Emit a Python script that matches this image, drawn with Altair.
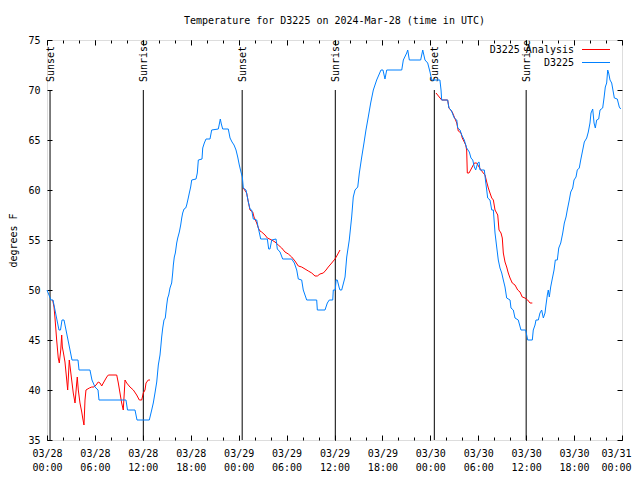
import altair as alt
import pandas as pd

# ---- data (hours since 2024-03-28 00:00 UTC, degrees F) ----
blue_hours = [0.0, 0.25, 0.5, 0.75, 1.0, 1.25, 1.5, 1.69, 1.88, 2.13, 2.38, 2.63, 2.88, 3.13, 3.88, 4.01,
              5.38, 5.63, 6.01, 6.39, 6.51, 9.89, 10.08, 11.02, 11.27, 12.81, 13.11, 13.31, 13.52, 13.74,
              13.94, 14.15, 14.27, 14.36, 14.49, 14.65, 14.81, 14.99, 15.11, 15.24, 15.40, 15.61, 15.74,
              15.82, 15.94, 16.07, 16.24, 16.37, 16.57, 16.74, 16.87, 16.99, 17.16, 17.37, 17.49, 17.69,
              17.82, 17.99, 18.12, 18.66, 18.82, 18.95, 19.41, 19.50, 19.70, 19.91, 20.41, 20.62, 21.45,
              21.58, 21.70, 21.83, 22.00, 22.70, 22.92, 23.17, 23.42, 23.67, 23.88, 24.08, 24.29, 24.46,
              24.58, 24.92, 25.21, 25.42, 25.63, 25.83, 26.26, 26.46, 26.76, 27.59, 27.76, 27.92, 28.14,
              28.68, 28.84, 29.18, 29.51, 30.64, 30.97, 31.27, 31.47, 31.89, 32.09, 32.52, 33.77, 33.85,
              34.81, 35.10, 35.35, 35.78, 35.85, 36.10, 36.19, 36.35, 36.60, 36.69, 36.90, 37.32, 37.53,
              37.85, 38.15, 38.35, 38.57, 38.91, 39.11, 39.41, 39.69, 39.94, 40.23, 40.53, 40.86, 41.28,
              41.82, 42.07, 42.32, 42.54, 44.42, 44.62, 45.04, 45.17, 45.37, 46.79, 47.05, 47.33, 47.67,
              47.96, 48.17, 48.71, 49.20, 49.34, 49.42, 50.17, 50.33, 50.59, 50.75, 51.00, 51.31, 51.43,
              51.72, 51.93, 52.25, 52.55, 52.88, 53.09, 53.31, 53.51, 53.68, 53.93, 54.10, 54.22, 54.76,
              54.93, 55.06, 55.18, 55.47, 55.69, 55.89, 56.01, 56.10, 56.31, 56.51, 56.72, 56.94, 57.14,
              57.35, 57.56, 57.98, 58.10, 58.39, 58.60, 59.01, 59.35, 59.94, 60.19, 60.77, 60.89, 61.11,
              61.23, 61.52, 61.73, 61.94, 62.15, 62.36, 62.48, 62.65, 62.77, 62.90, 63.07, 63.24, 63.49,
              63.65, 63.90, 64.08, 64.33, 64.58, 64.78, 64.99, 65.15, 65.40, 65.58, 65.83, 65.99, 66.24,
              66.40, 66.65, 66.83, 67.08, 67.28, 67.58, 67.78, 67.99, 68.12, 68.33, 68.50, 68.66, 68.83,
              69.08, 69.25, 69.58, 69.75, 69.91, 70.08, 70.21, 70.33, 70.50, 70.71, 71.04, 71.41, 71.66,
              71.84]
blue_temp = [50, 49.5, 49, 49, 48, 47, 46, 46, 47, 47, 46, 45, 44, 43, 43, 42,
             42, 41, 40.3, 40, 39, 39, 38, 38, 37, 37, 38, 38.7, 39.7, 40.8,
             42.5, 43.5, 44.5, 45.3, 46.2, 47, 47.2, 48.5, 49.2, 49.5, 50.2, 50.7, 51.7,
             52.5, 53.3, 53.7, 54.7, 55.2, 55.8, 56.5, 57.2, 57.7, 58.1, 58.2, 58.5, 59.2,
             59.7, 60.3, 61, 61.1, 61.7, 63, 63.1, 64.2, 64.7, 65.1, 65.1, 66, 66.1,
             66.6, 67.1, 66.6, 66.1, 66.1, 65.2, 64.8, 64.5, 64, 63.3, 62.5, 61.8, 61.3,
             60.2, 60, 58.8, 58.1, 58, 57.1, 57, 56.2, 55.1, 55.1, 54.1, 54.1, 55,
             55.1, 54.1, 53.8, 53.1, 53.1, 52.7, 52, 51.1, 51, 50, 49, 49, 48,
             48, 48.7, 49, 49, 50, 50, 51, 51, 50.2, 50, 50, 51.3, 53.3,
             55, 57.3, 59.3, 60, 60.3, 61.7, 63.3, 64.7, 66, 67.3, 68.7, 70, 71,
             72, 72, 71.1, 72, 72, 73, 73.7, 74, 73, 73, 74, 73, 72.7,
             71.8, 71, 71, 71, 70, 69, 69, 68.2, 68, 67.7, 67.2, 67, 66.2,
             66, 65.5, 65, 64.2, 63.8, 63.2, 63, 62.3, 62, 62.7, 62.8, 62, 62,
             60.8, 60, 59.2, 59, 58, 58, 56.7, 55.7, 54.3, 53, 52.2, 51.7, 51,
             50.3, 49.2, 49, 48.2, 48, 47.2, 47, 46, 46, 45, 45, 46, 46.5,
             47, 47, 47.7, 48, 47.2, 47.7, 48.5, 49.5, 50, 49.3, 50.3, 51, 52,
             53, 53, 54.2, 54.7, 55.7, 56.7, 57.3, 58, 59, 59.8, 60.2, 61, 61.3,
             62, 62.2, 63, 64, 64.8, 65.2, 65.8, 66.7, 67.7, 68.1, 66.7, 66.2, 67,
             67.1, 68, 68.2, 69.2, 70.3, 70.7, 72, 71.7, 71, 70.7, 69.2, 69.1, 68.3,
             68.1]

red1_hours = [0.71, 0.88, 1.0, 1.21, 1.41, 1.54, 1.72, 1.84, 1.92, 2.04, 2.25, 2.47, 2.59, 2.79, 2.97,
              3.09, 3.29, 3.51, 3.72, 3.79, 3.92, 4.13, 4.35, 4.47, 4.63, 4.76, 4.88, 5.30, 5.60, 5.89,
              6.14, 6.42, 6.64, 6.85, 7.05, 7.48, 7.68, 8.73, 8.93, 9.14, 9.35, 9.55, 9.77, 9.98, 10.39,
              10.81, 11.23, 11.56, 11.86, 12.06, 12.27, 12.40, 12.68, 12.90]
red1_temp = [49, 48.3, 47.2, 45, 43.2, 42.7, 44, 45.5, 44.3, 43.8, 42.8, 41, 40, 43, 41.8,
             41, 39.7, 38.7, 40.7, 41.3, 40, 38.7, 37.8, 37.2, 36.5, 39, 40, 40.2, 40.3, 40.3,
             40.5, 40.8, 40.7, 40.4, 40.7, 41.3, 41.5, 41.5, 40.7, 39.7, 38.7, 38, 41, 40.7, 40.3,
             40, 39.5, 39, 39, 39.7, 40, 40.7, 41, 41]

red2_hours = [24.58, 25.0, 25.21, 25.42, 25.76, 25.92, 26.26, 26.46, 26.67, 26.88, 27.30, 27.59, 28.14,
              28.55, 28.96, 29.39, 29.80, 30.22, 30.64, 31.05, 31.47, 31.89, 32.31, 32.72, 33.15, 33.56,
              33.85, 34.18, 34.60, 34.94, 35.22, 35.65, 36.06, 36.28, 36.69]
red2_temp = [60.2, 59.7, 58.8, 58, 57.8, 57.3, 56.7, 56.2, 55.9, 55.8, 55.5, 55.2, 55,
             54.8, 54.5, 54.2, 53.8, 53.6, 53.3, 52.9, 52.4, 52.3, 52.1, 51.9, 51.7, 51.4,
             51.4, 51.6, 51.7, 52, 52.3, 52.7, 53.1, 53.4, 54]

red3_hours = [48.71, 49.42, 50.17, 50.33, 50.75, 51.0, 51.31, 51.50, 51.84, 52.0, 52.25, 52.43, 52.55,
              52.63, 52.84, 53.18, 53.51, 53.81, 54.10, 54.35, 54.63, 54.85, 55.06, 55.26, 55.47, 55.69,
              55.89, 56.10, 56.44, 56.60, 56.85, 57.01, 57.14, 57.35, 57.56, 57.76, 57.98, 58.26, 58.60,
              58.94, 59.23, 59.51, 59.85, 60.19, 60.48, 60.77]
red3_temp = [69.7, 69, 69, 68.2, 67.8, 67.3, 66.7, 65.9, 65.7, 65.2, 64.8, 64.5, 64,
             61.7, 61.7, 62.2, 62.7, 62.7, 62.3, 62, 61.7, 61.5, 60.8, 60.2, 59.7, 59.2,
             59, 58, 57.5, 56, 55.7, 55.2, 53.7, 52.8, 52.3, 51.7, 51.2, 50.7, 50.5,
             50, 49.8, 49.3, 49.2, 49, 48.7, 48.7]

sun_hours = [0.38, 12.06, 24.44, 36.1, 48.5, 60.0]
sun_labels = ["Sunset", "Sunrise", "Sunset", "Sunrise", "Sunset", "Sunrise"]

series_names = ["D3225 Analysis", "D3225"]
series_colors = ["#ff0000", "#0080ff"]

title_text = "Temperature for D3225 on 2024-Mar-28 (time in UTC)"
x_major = list(range(0, 73, 6))
x_minor = list(range(0, 73, 2))
y_major = list(range(35, 76, 5))

FONT = "DejaVu Sans Mono"

# ---- tables ----
blue_df = pd.DataFrame({"h": blue_hours, "t": blue_temp})
red_df = pd.concat([
    pd.DataFrame({"h": red1_hours, "t": red1_temp, "seg": 1}),
    pd.DataFrame({"h": red2_hours, "t": red2_temp, "seg": 2}),
    pd.DataFrame({"h": red3_hours, "t": red3_temp, "seg": 3}),
], ignore_index=True)
sun_df = pd.DataFrame({"h": sun_hours, "label": sun_labels})

xscale = alt.Scale(domain=[0, 72], nice=False, zero=False)
yscale = alt.Scale(domain=[35, 75], nice=False, zero=False)

label_expr = ("['03/' + (28 + floor(datum.value / 24)), "
              "((datum.value % 24) < 10 ? '0' : '') + (datum.value % 24) + ':00']")

x_main_axis = alt.Axis(values=x_major, labelExpr=label_expr, ticks=False, tickSize=0, domain=False,
                       grid=False, labelPadding=8, labelLineHeight=14, labelFont=FONT, labelFontSize=10,
                       labelColor="black", title=None, labelAngle=0, labelFlush=False, labelOverlap=False,
                       labelBaseline="top",
                       labelOffset={"condition": {"test": "datum.value == 72", "value": -6}, "value": 0})
y_main_axis = alt.Axis(values=y_major, ticks=False, tickSize=0, domain=False, grid=False, labelPadding=7,
                       labelFont=FONT, labelFontSize=10, labelColor="black", title="degrees F",
                       titleFont=FONT, titleFontSize=10, titleFontWeight="normal", titleColor="black",
                       titlePadding=9)


def tick_axis(orient, values, size):
    return alt.Axis(orient=orient, values=values, offset=-size, tickSize=size, ticks=True, labels=False,
                    domain=False, grid=False, title=None, tickColor="black", tickWidth=1)


def tick_layer(xaxis, yaxis):
    return alt.Chart(blue_df).mark_line(strokeOpacity=0).encode(
        x=alt.X("h:Q", scale=xscale, axis=xaxis),
        y=alt.Y("t:Q", scale=yscale, axis=yaxis),
    )


red = alt.Chart(red_df).mark_line(color=series_colors[0], strokeWidth=1).encode(
    x=alt.X("h:Q", scale=xscale, axis=None),
    y=alt.Y("t:Q", scale=yscale, axis=None),
    detail="seg:N",
)

blue = alt.Chart(blue_df).mark_line(color=series_colors[1], strokeWidth=1).encode(
    x=alt.X("h:Q", scale=xscale, axis=x_main_axis),
    y=alt.Y("t:Q", scale=yscale, axis=y_main_axis),
)

sun_rules = alt.Chart(sun_df).mark_rule(color="black", strokeWidth=1).encode(
    x=alt.X("h:Q", scale=xscale, axis=None),
    y=alt.YDatum(70, axis=None, scale=yscale),
    y2=alt.Y2Datum(35),
)

sun_text = alt.Chart(sun_df).mark_text(angle=270, align="left", baseline="middle", dx=8, dy=1,
                                       font=FONT, fontSize=10, color="black").encode(
    x=alt.X("h:Q", scale=xscale, axis=None),
    y=alt.YDatum(70, axis=None, scale=yscale),
    text="label:N",
)

leg_layers = []
for i, (name, col) in enumerate(zip(series_names, series_colors)):
    ypos = 10 + 13 * i
    leg_layers.append(
        alt.Chart(pd.DataFrame({"s": [name]})).mark_text(
            align="right", baseline="middle", font=FONT, fontSize=10, color="black"
        ).encode(x=alt.value(527), y=alt.value(ypos), text="s:N")
    )
    leg_layers.append(
        alt.Chart(pd.DataFrame({"s": [name]})).mark_rule(color=col, strokeWidth=1).encode(
            x=alt.value(535), x2=alt.value(563), y=alt.value(ypos - 0.5)
        )
    )

chart = alt.layer(
    tick_layer(tick_axis("bottom", x_major, 5), tick_axis("left", y_major, 5)),
    tick_layer(tick_axis("bottom", x_minor, 3), tick_axis("right", y_major, 5)),
    tick_layer(tick_axis("top", x_major, 5), None),
    tick_layer(tick_axis("top", x_minor, 3), None),
    sun_rules,
    sun_text,
    red,
    blue,
    *leg_layers,
).resolve_axis(x="independent", y="independent").properties(
    width=575,
    height=400,
    title=alt.TitleParams(title_text, font=FONT, fontSize=10, fontWeight="normal", anchor="middle",
                          offset=9, color="black"),
    autosize=alt.AutoSizeParams(type="none"),
    padding={"left": 39, "top": 32, "right": 10, "bottom": 32},
).configure_view(stroke="black", strokeWidth=1).configure(background="white")

chart.save("out.html", embed_options={"renderer": "svg", "actions": False})
